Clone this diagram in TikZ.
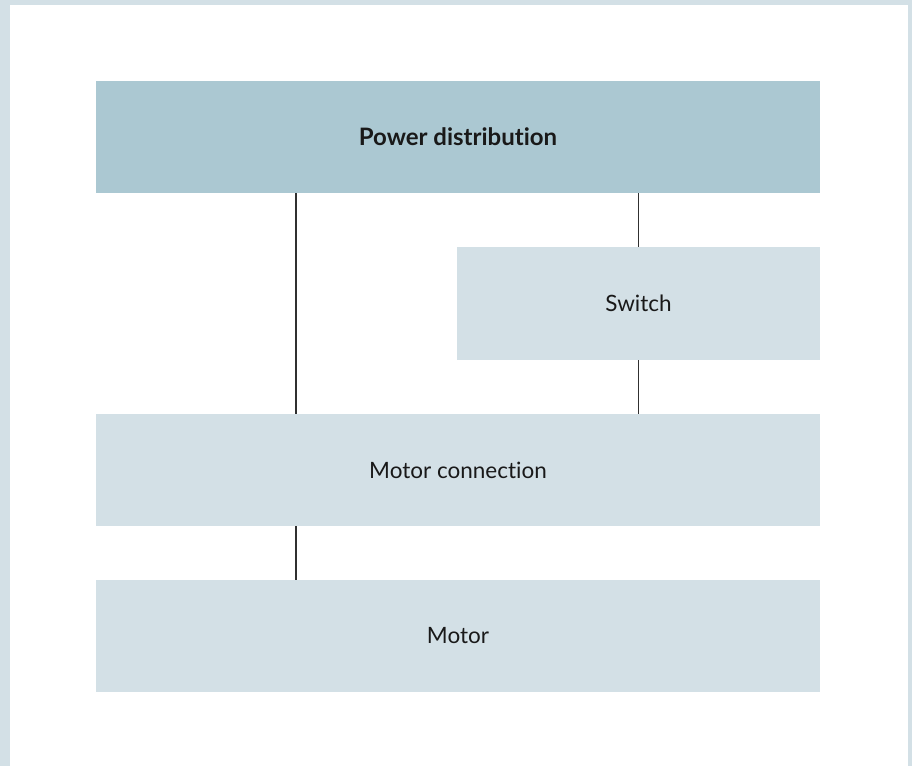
\documentclass[tikz,border=0pt]{standalone}
\usepackage{fontspec}
\setmainfont{Lato}[Ligatures=NoCommon]
\usepackage{tikz}
\usetikzlibrary{positioning, calc}
\colorlet{PDdark}{black!90}
\definecolor{PDhead}{HTML}{ABC8D2}
\definecolor{PDbox}{HTML}{D3E0E6}

\begin{document}
\begin{tikzpicture}[x=1pt, y=-1pt,
    block/.style={fill=PDbox, minimum height=112pt, inner sep=0pt,
      text=PDdark, font=\fontsize{22.5}{24}\selectfont},
    link/.style={draw=PDdark!90, line width=1.3pt}]
        % frame
        \fill[PDbox] (0,0) rectangle (912,766);
        \fill[white] (10,5) rectangle (908,766);
        \useasboundingbox (0,0) rectangle (912,766);
        % blocks
        \node[block, fill=PDhead, minimum width=724pt, font=\fontsize{24}{26}\selectfont\bfseries]
          (pd) at (458,137) {Power distribution};
        \node[block, minimum width=363pt, minimum height=113pt] (sw) at (638.5,303.5) {Switch};
        \node[block, minimum width=724pt] (mc) at (458,470) {Motor connection};
        \node[block, minimum width=724pt] (mo) at (458,636) {Motor};
        % links
        \draw[link] (pd.south -| 296,0) -- (mc.north -| 296,0);
        \draw[link] (pd.south -| sw.north) -- (sw.north);
        \draw[link] (sw.south) -- (mc.north -| sw.south);
        \draw[link] (mc.south -| 296,0) -- (mo.north -| 296,0);
      \end{tikzpicture}
\end{document}
